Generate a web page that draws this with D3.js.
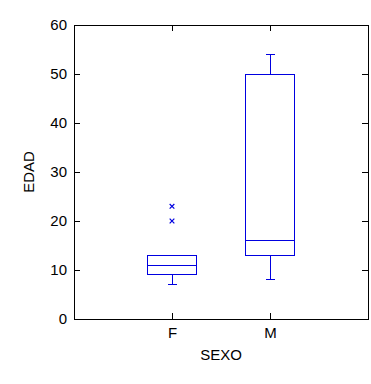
<!DOCTYPE html>
<html>
<head>
<meta charset="utf-8">
<script src="https://cdn.jsdelivr.net/npm/d3@7"></script>
<style>
  body { margin: 0; background: #fff; }
  text { font-family: "Liberation Sans", Arial, sans-serif; }
  line, rect { shape-rendering: crispEdges; }
</style>
</head>
<body>
<div id="chart"></div>
<script>
// Box plot data
const categories = ["F", "M"];
const q1 = [9, 13];
const medians = [11, 16];
const q3 = [13, 50];
const whiskerLow = [7, 8];
const whiskerHigh = [13, 54];
const outliers = [[23, 20], []];
const yTicks = [0, 10, 20, 30, 40, 50, 60];

const margin = { top: 25, right: 3, bottom: 65, left: 74 };
const width = 371 - margin.left - margin.right;
const height = 384 - margin.top - margin.bottom;
const blue = "#0000e0";

const svg = d3.select("#chart").append("svg")
    .attr("width", 371)
    .attr("height", 384)
  .append("g")
    .attr("transform", `translate(${margin.left},${margin.top})`);

const x = d3.scalePoint().domain(["", ...categories, " "]).range([0, width]);
const y = d3.scaleLinear().domain([0, 60]).range([height, 0]);

const boxes = categories.map((c, i) => ({
  cat: c, q1: q1[i], med: medians[i], q3: q3[i],
  lo: whiskerLow[i], hi: whiskerHigh[i], out: outliers[i]
}));

// frame
svg.append("rect")
    .attr("x", 0.5)
    .attr("y", 0.5)
    .attr("width", width)
    .attr("height", height)
    .attr("fill", "none")
    .attr("stroke", "#000");

// axes with inward ticks
const styleAxis = g => {
  g.select(".domain").remove();
  g.selectAll("line").attr("stroke", "#000");
  g.selectAll("text").style("font-size", "15px").attr("fill", "#000");
};

svg.append("g")
    .call(d3.axisLeft(y).tickValues(yTicks).tickSizeInner(-6).tickSizeOuter(0).tickPadding(7))
    .call(styleAxis);

svg.append("g")
    .attr("transform", `translate(${width},0)`)
    .call(d3.axisRight(y).tickValues(yTicks.slice(1, -1)).tickSizeInner(-6).tickSizeOuter(0).tickFormat(""))
    .call(styleAxis);

svg.append("g")
    .attr("transform", `translate(0,${height})`)
    .call(d3.axisBottom(x).tickValues(categories).tickSizeInner(-6).tickSizeOuter(0).tickPadding(8))
    .call(styleAxis);

svg.append("g")
    .call(d3.axisTop(x).tickValues(categories).tickSizeInner(-6).tickSizeOuter(0).tickFormat(""))
    .call(styleAxis);

// axis titles
svg.append("text")
    .attr("x", width / 2)
    .attr("y", height + 41)
    .style("text-anchor", "middle")
    .style("font-size", "15px")
    .text("SEXO");

svg.append("text")
    .attr("transform", "rotate(-90)")
    .attr("x", -height / 2)
    .attr("y", -40)
    .style("text-anchor", "middle")
    .style("font-size", "15px")
    .text("EDAD");

// boxes
const boxW = 49;
const capW = 9;
const g = svg.selectAll(".box")
    .data(boxes)
  .enter().append("g")
    .attr("class", "box")
    .attr("transform", d => `translate(${x(d.cat)},0)`)
    .attr("stroke", blue)
    .attr("stroke-width", 1)
    .attr("fill", "none");

g.append("line")
    .attr("y1", d => y(d.q1)).attr("y2", d => y(d.lo));
g.append("line")
    .attr("x1", -capW / 2).attr("x2", capW / 2)
    .attr("y1", d => y(d.lo)).attr("y2", d => y(d.lo));
g.filter(d => d.hi > d.q3).append("line")
    .attr("y1", d => y(d.q3)).attr("y2", d => y(d.hi));
g.filter(d => d.hi > d.q3).append("line")
    .attr("x1", -capW / 2).attr("x2", capW / 2)
    .attr("y1", d => y(d.hi)).attr("y2", d => y(d.hi));

g.append("rect")
    .attr("x", -boxW / 2)
    .attr("width", boxW)
    .attr("y", d => y(d.q3))
    .attr("height", d => y(d.q1) - y(d.q3));

g.append("line")
    .attr("x1", -boxW / 2).attr("x2", boxW / 2)
    .attr("y1", d => y(d.med)).attr("y2", d => y(d.med));

// outliers
g.selectAll(".out")
    .data(d => d.out)
  .enter().append("path")
    .attr("class", "out")
    .attr("transform", v => `translate(0,${y(v)})`)
    .attr("stroke-width", 1.2)
    .attr("d", d3.symbol(d3.symbolTimes, 16));
</script>
</body>
</html>
